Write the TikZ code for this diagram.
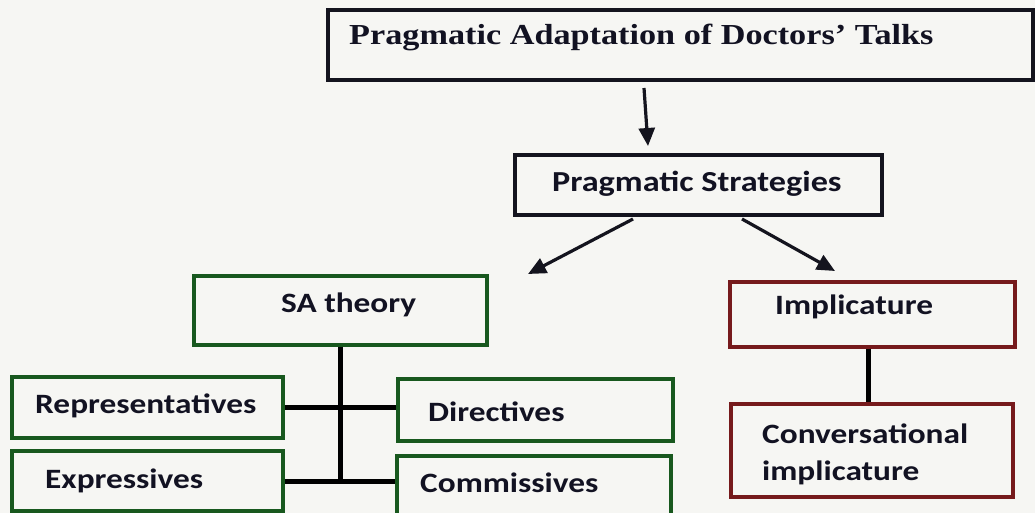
\documentclass[tikz,border=0pt]{standalone}
\usepackage{fontspec}
\usetikzlibrary{arrows.meta}
\newfontfamily\serifx[FakeStretch=1.18]{Liberation Serif}
\newfontfamily\sansx[FakeStretch=1.19]{Carlito}
\newfontfamily\sansxp[FakeStretch=1.18]{Carlito}
\definecolor{paper}{RGB}{246,246,243}
\definecolor{ink}{RGB}{18,18,34}
\definecolor{boxgreen}{RGB}{24,88,30}
\definecolor{boxred}{RGB}{118,26,28}
\definecolor{boxblack}{RGB}{20,20,30}
\tikzset{
  frame/.style n args={2}{draw, line width=3.2pt, minimum width=#1, minimum height=#2, inner sep=0pt},
  gbox/.style={draw=boxgreen},
  rbox/.style={draw=boxred},
  kbox/.style={draw=boxblack},
  lab/.style={anchor=base west, inner sep=0pt, text=ink, font=\sansx\bfseries\fontsize{28}{32}\selectfont},
  tlab/.style={anchor=base west, inner sep=0pt, text=ink, font=\serifx\bfseries\fontsize{29}{32}\selectfont},
  conn/.style={line width=5pt, draw=black},
  arr/.style={line width=3.2pt, draw=boxblack, -{Triangle[length=18pt,width=16pt]}}
}
\begin{document}
\begin{tikzpicture}[x=1pt,y=-1pt]
\fill[paper] (0,0) rectangle (1035,513);
\useasboundingbox (0,0) rectangle (1035,513);

% boxes
\node[frame={705}{70}, kbox] (title) at (680.5,45) {};
\node[frame={367}{60}, kbox] (ps) at (698.5,185) {};
\node[frame={293}{69}, gbox] (sa) at (340.5,310.5) {};
\node[frame={271}{61}, gbox] (rep) at (147.5,407.5) {};
\node[frame={275}{62}, gbox] (dir) at (535.5,410) {};
\node[frame={271}{60}, gbox] (exp) at (147.5,481) {};
\node[frame={274}{64}, gbox] (com) at (534,488) {};
\node[frame={285}{65}, rbox] (imp) at (872.5,314.5) {};
\node[frame={282}{93}, rbox] (conv) at (872,450.5) {};

% texts
\node[tlab] (titletext) at (349,45) {Pragmatic Adaptation of Doctors’ Talks};
\node[lab, font=\sansxp\bfseries\fontsize{29}{32}\selectfont] (pstext) at (552,191) {Pragmatic Strategies};
\node[lab] (satext) at (281,312) {SA theory};
\node[lab] (reptext) at (35,413) {Representatives};
\node[lab] (dirtext) at (428,421) {Directives};
\node[lab] (exptext) at (45,488) {Expressives};
\node[lab] (comtext) at (420,492) {Commissives};
\node[lab] (imptext) at (775,314) {Implicature};
\node[lab] (convtext1) at (762,443) {Conversational};
\node[lab] (convtext2) at (762,480) {implicature};

% arrows
\coordinate (a1s) at (644,88);
\coordinate (a1e) at (648,146);
\coordinate (a2s) at (633,219);
\coordinate (a2e) at (528,274);
\coordinate (a3s) at (742,219);
\coordinate (a3e) at (835,271);
\draw[arr] (a1s) -- (a1e);
\draw[arr] (a2s) -- (a2e);
\draw[arr] (a3s) -- (a3e);

% connectors
\draw[conn] (sa.south) -- (sa.south |- exp.east);
\draw[conn] (rep.east) -- (rep.east -| dir.west);
\draw[conn] (exp.east) -- (exp.east -| com.west);
\draw[conn] (imp.south -| 868,0) -- (conv.north -| 868,0);
\end{tikzpicture}
\end{document}
